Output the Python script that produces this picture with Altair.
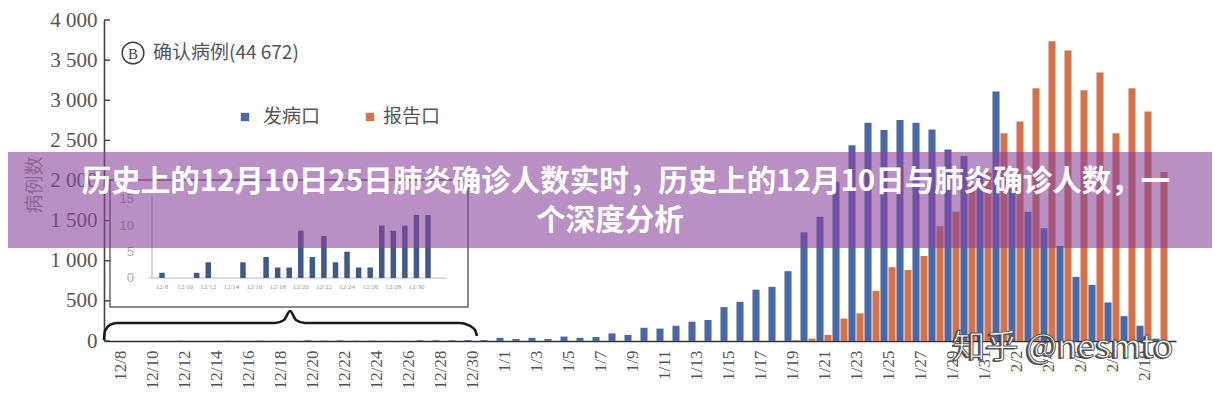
import altair as alt
import pandas as pd

# ---------------- data ----------------
dates = ["12/8", "12/9", "12/10", "12/11", "12/12", "12/13", "12/14", "12/15", "12/16", "12/17",
         "12/18", "12/19", "12/20", "12/21", "12/22", "12/23", "12/24", "12/25", "12/26", "12/27",
         "12/28", "12/29", "12/30", "12/31",
         "1/1", "1/2", "1/3", "1/4", "1/5", "1/6", "1/7", "1/8", "1/9", "1/10",
         "1/11", "1/12", "1/13", "1/14", "1/15", "1/16", "1/17", "1/18", "1/19", "1/20",
         "1/21", "1/22", "1/23", "1/24", "1/25", "1/26", "1/27", "1/28", "1/29", "1/30", "1/31",
         "2/1", "2/2", "2/3", "2/4", "2/5", "2/6", "2/7", "2/8", "2/9", "2/10", "2/11"]

onset = [1, 0, 0, 1, 3, 0, 0, 3, 0, 4, 2, 2, 9, 4, 8, 3, 5, 2, 2, 10, 9, 10, 12, 12,
         40, 25, 40, 25, 55, 40, 50, 95, 75, 165,
         155, 190, 240, 262, 422, 488, 640, 675, 870, 1355,
         1548, 1985, 2438, 2720, 2630, 2755, 2720, 2635, 2385, 2305, 2100,
         3110, 1900, 1610, 1405, 1185, 800, 700, 480, 310, 190, 30]

report = [0] * 24 + [0] * 18 + [10, 30,
          75, 280, 345, 625, 920, 885, 1060, 1430, 1610, 1950, 2100,
          2590, 2735, 3150, 3735, 3620, 3125, 3345, 2590, 3150, 2860, 2105]

series_names = ["发病口", "报告口"]
series_colors = ["#4A67A7", "#D4724A"]

y_ticks = [0, 500, 1000, 1500, 2000, 2500, 3000, 3500, 4000]

inset_dates = dates[:24]
inset_onset = onset[:24]
inset_ticks = [0, 5, 10, 15]

# curly brace under the inset, in (day index, case count) units
brace_x = [-1.0, -0.94, -0.63, -0.19, 9.69, 10.25, 10.63, 11.0, 11.56, 21.25, 21.88, 22.19, 22.31]
brace_y = [12, 125, 200, 224, 224, 262, 374, 262, 224, 224, 187, 137, 62]

title_line1 = "历史上的12月10日25日肺炎确诊人数实时，历史上的12月10日与肺炎确诊人数，一"
title_line2 = "个深度分析"
watermark = "知乎 @nesmto"

# ---------------- frames ----------------
n = len(dates)
df = pd.DataFrame({
    "idx": list(range(n)) * 2,
    "value": onset + report,
    "series": [series_names[0]] * n + [series_names[1]] * n,
})
df_ticks = pd.DataFrame({"v": y_ticks})
df_brace = pd.DataFrame({"bx": brace_x, "by": brace_y})
df_inset = pd.DataFrame({"i": list(range(len(inset_dates))), "val": inset_onset, "d": inset_dates})
df_inset_lab = df_inset[df_inset["i"] % 2 == 0]
df_inset_ticks = pd.DataFrame({"t": inset_ticks})

W, H = 1072, 321
xs = alt.Scale(domain=[-1, 66], nice=False, zero=False)
ys = alt.Scale(domain=[0, 4000], nice=False)

label_expr = "[" + ",".join("'" + d + "'" for d in dates) + "][datum.value]"
GRAY = "#555555"

x_axis = alt.Axis(values=list(range(0, n, 2)), labelExpr=label_expr, labelAngle=-90,
                  labelFont="Liberation Serif", labelFontSize=17, labelColor=GRAY,
                  labelPadding=9, ticks=False, grid=False, domainColor="#333333",
                  domainWidth=1.6, labelOverlap=False, labelBound=False, title=None)
y_axis = alt.Axis(values=y_ticks, labelExpr="replace(format(datum.value, ','), ',', ' ')",
                  labelFont="Liberation Serif", labelFontSize=21, labelColor=GRAY,
                  labelPadding=7, ticks=False, grid=False, domainColor="#444444",
                  domainWidth=1.6, labelOverlap=False, title=None)

bars = alt.Chart(df).transform_filter("datum.value > 0").transform_calculate(
    x0="datum.series == '发病口' ? datum.idx - 0.47 : datum.idx + 0.03",
    x1="datum.series == '发病口' ? datum.idx - 0.03 : datum.idx + 0.47",
).mark_bar().encode(
    x=alt.X("x0:Q", scale=xs, axis=x_axis),
    x2="x1:Q",
    y=alt.Y("value:Q", scale=ys, axis=y_axis),
    y2=alt.datum(0),
    color=alt.Color("series:N", scale=alt.Scale(domain=series_names, range=series_colors), legend=None),
)

ytick_marks = alt.Chart(df_ticks).mark_rule(color="#444444", strokeWidth=1.5).encode(
    y=alt.Y("v:Q", scale=ys, axis=y_axis),
    x=alt.value(0), x2=alt.value(6),
)

brace = alt.Chart(df_brace).mark_line(color="#1a1a1a", strokeWidth=2.6, interpolate="monotone").encode(
    x=alt.X("bx:Q", scale=xs, axis=x_axis),
    y=alt.Y("by:Q", scale=ys, axis=y_axis),
)

one = pd.DataFrame({"k": [0]})

def txt(text, x, y, **kw):
    return alt.Chart(pd.DataFrame({"t": [text]})).mark_text(**kw).encode(
        text="t:N", x=alt.value(x), y=alt.value(y))

legend_sq_blue = alt.Chart(one).mark_square(size=70, color=series_colors[0], opacity=1).encode(
    x=alt.value(141), y=alt.value(97))
legend_sq_orange = alt.Chart(one).mark_square(size=70, color=series_colors[1], opacity=1).encode(
    x=alt.value(266), y=alt.value(97))
legend_t1 = txt(series_names[0], 159, 97, align="left", baseline="middle", fontSize=19,
                font="Noto Sans CJK SC", color=GRAY)
legend_t2 = txt(series_names[1], 279, 97, align="left", baseline="middle", fontSize=19,
                font="Noto Sans CJK SC", color=GRAY)

circ = alt.Chart(one).mark_point(shape="circle", filled=False, size=470, color="#444444",
                                 strokeWidth=1.5, opacity=1).encode(x=alt.value(29), y=alt.value(33))
circ_b = txt("B", 29, 34, align="center", baseline="middle", fontSize=15,
             font="Liberation Serif", color="#444444")
annot = txt("确认病例(44 672)", 49, 33, align="left", baseline="middle", fontSize=19,
            font="Noto Sans CJK SC", color=GRAY)
ytitle = txt("病例数", -69, 165, align="center", baseline="middle", fontSize=19,
             font="Noto Sans CJK SC", color="#9a9a9a", angle=270)

main = alt.layer(bars, ytick_marks, brace, legend_sq_blue, legend_sq_orange, legend_t1, legend_t2,
                 circ, circ_b, annot, ytitle)

# ---------------- inset ----------------
ixs = alt.Scale(domain=[0, 23], range=[53, 329], nice=False, zero=False)
iys = alt.Scale(domain=[0, 15], range=[258, 179.3], nice=False)

inset_box = alt.Chart(one).mark_rect(fill="white", stroke="#666666", strokeWidth=1.5).encode(
    x=alt.value(6), x2=alt.value(364), y=alt.value(160), y2=alt.value(287))
inset_yaxis = alt.Chart(one).mark_rule(color="#aaaaaa", strokeWidth=1).encode(
    x=alt.value(48), y=alt.value(177), y2=alt.value(258))
inset_base = alt.Chart(one).mark_rule(color="#bbbbbb", strokeWidth=1).encode(
    x=alt.value(44), x2=alt.value(343), y=alt.value(258))
inset_bars = alt.Chart(df_inset).transform_filter("datum.val > 0").mark_bar(
    width=5.5, color="#41598A").encode(
    x=alt.X("i:Q", scale=ixs, axis=None),
    y=alt.Y("val:Q", scale=iys, axis=None),
)
inset_ylab = alt.Chart(df_inset_ticks).mark_text(align="right", baseline="middle", fontSize=13,
                                                  font="Liberation Sans", color="#aaaaaa").encode(
    text="t:Q", x=alt.value(30), y=alt.Y("t:Q", scale=iys, axis=None))
inset_xlab = alt.Chart(df_inset_lab).mark_text(align="center", baseline="middle", fontSize=7,
                                                font="Liberation Serif", color="#999999").encode(
    text="d:N", x=alt.X("i:Q", scale=ixs, axis=None), y=alt.value(267))

inset = alt.layer(inset_box, inset_yaxis, inset_base, inset_bars, inset_ylab, inset_xlab)

# ---------------- overlay banner & watermark ----------------
banner = alt.Chart(one).mark_rect(color="#89469B", opacity=0.6).encode(
    x=alt.value(-96), x2=alt.value(1110), y=alt.value(132), y2=alt.value(228))
bt1 = txt(title_line1, 522, 162, align="center", baseline="middle", fontSize=29.5,
          font="Noto Sans CJK SC", fontWeight="bold", color="white")
bt2 = txt(title_line2, 506, 201, align="center", baseline="middle", fontSize=29.5,
          font="Noto Sans CJK SC", fontWeight="bold", color="white")
wm_shadow = txt(watermark, 957, 329, align="center", baseline="middle", fontSize=33,
                font="Noto Sans CJK SC", color="#3a3a3a", opacity=0.9)
wm = txt(watermark, 959, 328, align="center", baseline="middle", fontSize=33,
         font="Noto Sans CJK SC", color="white", stroke="#555555", strokeWidth=1)

overlay = alt.layer(banner, bt1, bt2, wm_shadow, wm)

chart = alt.layer(main, inset, overlay).resolve_scale(
    x="independent", y="independent"
).properties(
    width=W, height=H,
    autosize=alt.AutoSizeParams(type="none"),
    padding={"left": 96, "top": 12, "right": 36, "bottom": 47},
    background="white",
).configure_view(stroke=None).configure_axis(labelOverlap=False)

chart.save("out.html", embed_options={"renderer": "svg", "actions": False})
